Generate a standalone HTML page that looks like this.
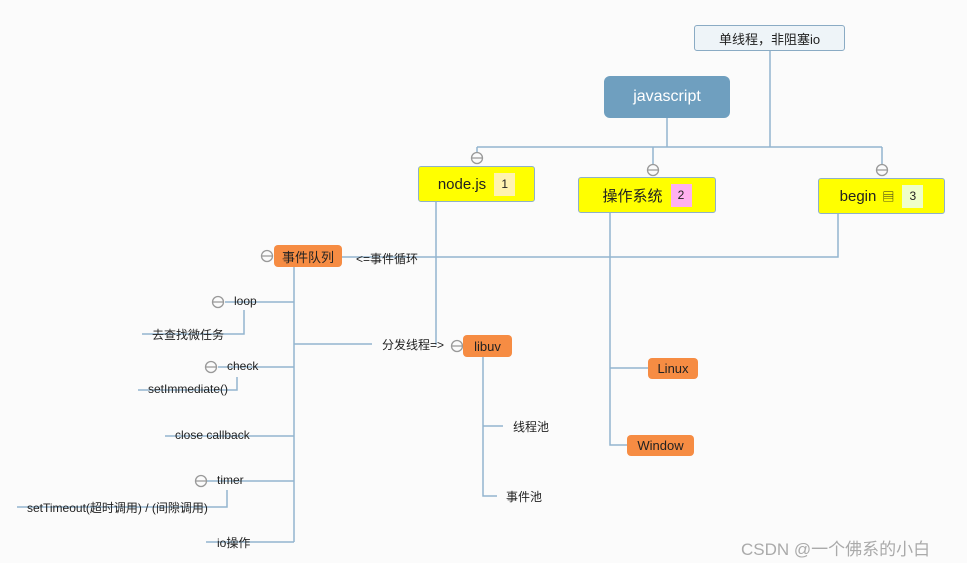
<!DOCTYPE html>
<html><head><meta charset="utf-8"><style>
body{margin:0;width:967px;height:563px;background:#fbfbfb;position:relative;overflow:hidden;font-family:"Liberation Sans","Noto Sans CJK SC",sans-serif;}
.a{position:absolute;white-space:nowrap;}
.box{position:absolute;box-sizing:border-box;display:flex;align-items:center;justify-content:center;}
.y{background:#ffff00;border:1.5px solid #8fb1c8;border-radius:3px;font-size:15px;color:#222;}
.o{background:#f68c43;border-radius:4px;font-size:13px;color:#222;}
.t{font-size:12px;color:#222;}
.tag{display:inline-block;width:21px;height:23px;line-height:23px;text-align:center;font-size:12px;margin-left:8px;}
</style></head><body>
<svg width="967" height="563" style="position:absolute;left:0;top:0">
<g stroke="#93b5cf" stroke-width="1.5" fill="none">
<path d="M770 51V147M667 118V147M477 147H882M477 147V153M653 147V165M882 147V165"/>
<path d="M436 202V345M372 344H294M838 214V257H330"/>
<path d="M610 213V445H627M610 368H648"/>
<path d="M294 267V542M294 302H225M244 310V334H142M294 367H218M237 377V390H138M294 436H165M294 481H207M227 490V507H17M294 542H206"/>
<path d="M483 357V496H497M483 426H503"/>
</g>
<g stroke="#999" stroke-width="1.3" fill="#fbfbfb">
<circle cx="477" cy="158" r="5.5"/><circle cx="653" cy="170" r="5.5"/><circle cx="882" cy="170" r="5.5"/>
<circle cx="267" cy="256" r="5.5"/><circle cx="218" cy="302" r="5.5"/><circle cx="211" cy="367" r="5.5"/><circle cx="201" cy="481" r="5.5"/><circle cx="457" cy="346" r="5.5"/>
</g>
<g stroke="#999" stroke-width="1.3">
<path d="M472 158H482M648 170H658M877 170H887M262 256H272M213 302H223M206 367H216M196 481H206M452 346H462"/>
</g>
</svg>
<div class="box" style="left:694px;top:25px;width:151px;height:26px;background:#eef4f8;border:1px solid #8aabc4;border-radius:3px;font-size:13px;color:#222">单线程，非阻塞io</div>
<div class="box" style="left:604px;top:76px;width:126px;height:42px;background:#6f9fbf;border-radius:6px;color:#fff;font-size:16px">javascript</div>
<div class="box y" style="left:418px;top:166px;width:117px;height:36px">node.js<span class="tag" style="background:#fff3b0">1</span></div>
<div class="box y" style="left:578px;top:177px;width:138px;height:36px">操作系统<span class="tag" style="background:#ffb0f0">2</span></div>
<div class="box y" style="left:818px;top:178px;width:127px;height:36px">begin <span style="font-size:12px;margin-left:6px">▤</span><span class="tag" style="background:#efffc8">3</span></div>
<div class="box o" style="left:274px;top:245px;width:68px;height:22px">事件队列</div>
<div class="box o" style="left:463px;top:335px;width:49px;height:22px">libuv</div>
<div class="box o" style="left:648px;top:358px;width:50px;height:21px">Linux</div>
<div class="box o" style="left:627px;top:435px;width:67px;height:21px">Window</div>
<div class="a t" style="left:356px;top:250px">&lt;=事件循环</div>
<div class="a t" style="left:382px;top:336px">分发线程=&gt;</div>
<div class="a t" style="left:234px;top:294px">loop</div>
<div class="a t" style="left:152px;top:326px">去查找微任务</div>
<div class="a t" style="left:227px;top:359px">check</div>
<div class="a t" style="left:148px;top:382px">setImmediate()</div>
<div class="a t" style="left:175px;top:428px">close callback</div>
<div class="a t" style="left:217px;top:473px">timer</div>
<div class="a t" style="left:27px;top:499px">setTimeout(超时调用) / (间隙调用)</div>
<div class="a t" style="left:217px;top:534px">io操作</div>
<div class="a t" style="left:513px;top:418px">线程池</div>
<div class="a t" style="left:506px;top:488px">事件池</div>
<div class="a" style="left:741px;top:535px;font-size:17px;color:#aaa">CSDN @一个佛系的小白</div>
</body></html>
